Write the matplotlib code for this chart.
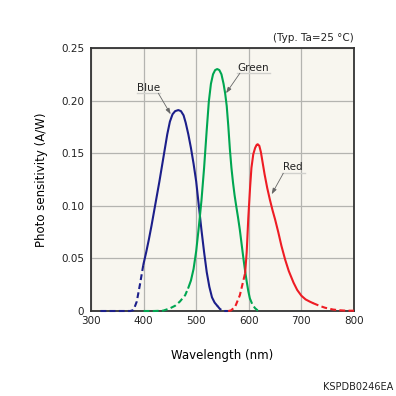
import matplotlib
matplotlib.use("Agg")
import matplotlib.pyplot as plt

# ---- data ----
blue_dash1_wl = [318, 340, 360, 375, 381, 387, 393, 399.5]
blue_dash1_v = [0.0, 0.0, 0.0, 0.0, 0.001, 0.009, 0.025, 0.044]
blue_wl = [399.5, 405, 410, 415, 420, 425, 430, 435, 440, 445, 450, 455, 460, 466, 471, 476, 480, 485, 490, 495, 500, 505, 510, 515, 520, 525, 530, 535, 540]
blue_v = [0.044, 0.056, 0.068, 0.081, 0.095, 0.109, 0.123, 0.138, 0.153, 0.168, 0.180, 0.187, 0.190, 0.191, 0.190, 0.186, 0.179, 0.168, 0.155, 0.140, 0.123, 0.100, 0.077, 0.056, 0.037, 0.023, 0.013, 0.008, 0.005]
blue_dash2_wl = [540, 545, 551, 560]
blue_dash2_v = [0.005, 0.002, 0.0, 0.0]

green_dash1_wl = [400, 420, 437, 450, 460, 469, 479, 485]
green_dash1_v = [0.0, 0.0, 0.0003, 0.0025, 0.005, 0.009, 0.015, 0.022]
green_wl = [485, 490, 495, 500, 505, 510, 515, 520, 524, 528, 532, 536, 540, 544, 548, 552, 555, 558, 561, 564, 567, 570, 573, 576, 579.5, 583, 586.5, 590, 593, 596, 599, 602]
green_v = [0.022, 0.029, 0.040, 0.057, 0.080, 0.105, 0.136, 0.172, 0.199, 0.216, 0.225, 0.229, 0.230, 0.229, 0.225, 0.216, 0.207, 0.195, 0.176, 0.154, 0.136, 0.122, 0.110, 0.100, 0.089, 0.077, 0.063, 0.049, 0.038, 0.028, 0.019, 0.012]
green_dash2_wl = [602, 607, 612, 617, 622]
green_dash2_v = [0.012, 0.006, 0.0026, 0.0005, 0.0]

red_dash1_wl = [561, 566, 574, 583, 593]
red_dash1_v = [0.0, 0.0005, 0.004, 0.015, 0.036]
red_wl = [593, 596, 599, 602.5, 605, 608.5, 612, 615, 617, 620, 623, 626, 630, 635, 640, 645, 650, 656, 662, 669, 676, 685, 692, 700, 708, 716, 722]
red_v = [0.036, 0.056, 0.088, 0.118, 0.136, 0.149, 0.155, 0.158, 0.1585, 0.157, 0.151, 0.142, 0.130, 0.117, 0.106, 0.096, 0.087, 0.075, 0.062, 0.049, 0.038, 0.027, 0.020, 0.0145, 0.011, 0.0089, 0.0075]
red_dash2_wl = [722, 735, 745, 760, 770, 785, 800]
red_dash2_v = [0.0075, 0.0048, 0.0031, 0.0014, 0.0008, 0.0003, 0.0003]

x_ticks = [300, 400, 500, 600, 700, 800]
y_ticks = [0, 0.05, 0.10, 0.15, 0.20, 0.25]
y_tick_labels = ["0", "0.05", "0.10", "0.15", "0.20", "0.25"]

BLUE = "#1c1f8a"
GREEN = "#00a651"
RED = "#ee1c24"

plt.rcParams['font.family'] = ['DejaVu Sans']

fig = plt.figure(figsize=(3.96, 3.96), dpi=100)
fig.patch.set_facecolor("white")
ax = fig.add_axes([91/396, 1-311/396, 263/396, 263/396])
ax.set_facecolor("#f8f6ef")

lw = 1.5
dash = (2.8, 1.6)
for (wl, v, c, ls) in [
    (blue_dash1_wl, blue_dash1_v, BLUE, 'd'), (blue_wl, blue_v, BLUE, 's'), (blue_dash2_wl, blue_dash2_v, BLUE, 'd'),
    (green_dash1_wl, green_dash1_v, GREEN, 'd'), (green_wl, green_v, GREEN, 's'), (green_dash2_wl, green_dash2_v, GREEN, 'd'),
    (red_dash1_wl, red_dash1_v, RED, 'd'), (red_wl, red_v, RED, 's'), (red_dash2_wl, red_dash2_v, RED, 'd'),
]:
    line, = ax.plot(wl, v, color=c, lw=lw, solid_joinstyle='round', solid_capstyle='round',
                    clip_on=False, zorder=3)
    if ls == 'd':
        line.set_dashes(dash)

ax.set_xlim(300, 800)
ax.set_ylim(0, 0.25)
ax.set_xticks(x_ticks)
ax.set_yticks(y_ticks)
ax.set_yticklabels(y_tick_labels)
ax.tick_params(length=0, labelsize=7.5, colors="#222222")
ax.tick_params(axis='y', pad=5)
ax.tick_params(axis='x', pad=3.5)
ax.grid(True, color="#b4b4b0", lw=0.9)
ax.set_axisbelow(True)
for s in ax.spines.values():
    s.set_color("#333333")
    s.set_linewidth(1.3)
    s.set_zorder(2.5)

ax.set_xlabel("Wavelength (nm)", fontsize=8.5, labelpad=17)
ax.set_ylabel("Photo sensitivity (A/W)", fontsize=8.5, labelpad=9)

# labels with underline and leader arrows
labels = [
    ("Blue", 408.9, 0.2123, (387, 431), 0.207, (428, 0.207), (451.5, 0.187)),
    ("Green", 607.4, 0.2313, (577, 640), 0.226, (583, 0.226), (556.7, 0.207)),
    ("Red", 684.6, 0.1366, (662.5, 707), 0.1309, (665.6, 0.1309), (643.5, 0.111)),
]
for txt, tx, ty, (ux0, ux1), uy, start, tip in labels:
    ax.text(tx, ty, txt, fontsize=7.5, ha='center', va='center', color="#222222", zorder=5)
    ax.plot([ux0, ux1], [uy, uy], color="#d0d0cc", lw=1.0, zorder=4)
    ax.annotate("", xy=tip, xytext=start,
                arrowprops=dict(arrowstyle='-|>,head_length=0.35,head_width=0.12',
                                color="#666666", lw=0.6, shrinkA=0, shrinkB=0), zorder=4)

fig.text(354/396, 1-38/396, "(Typ. Ta=25 \u00b0C)", fontsize=7.5, ha='right', va='center', color="#222222")
fig.text(393/396, 1-387/396, "KSPDB0246EA", fontsize=7, ha='right', va='center', color="#222222")

fig.savefig("out.png", dpi=100)
